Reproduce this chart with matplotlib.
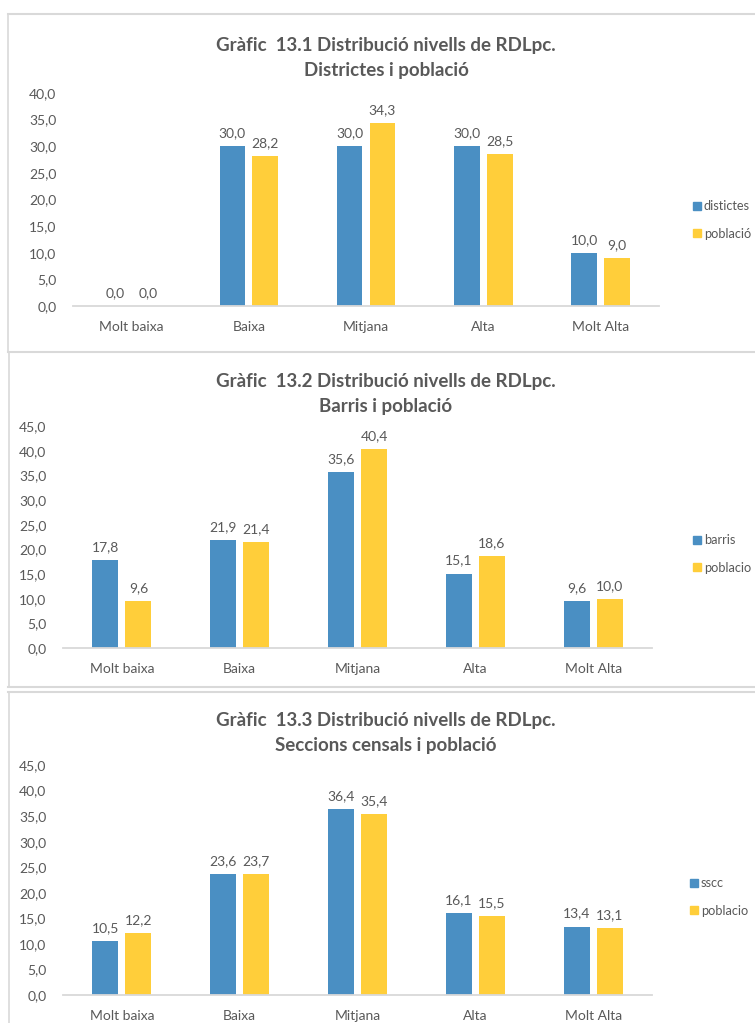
import matplotlib
matplotlib.use("Agg")
import matplotlib.pyplot as plt
from matplotlib.lines import Line2D
from matplotlib.patches import Patch
import numpy as np

plt.rcParams['font.family'] = ['Lato', 'DejaVu Sans']

categories = ["Molt baixa", "Baixa", "Mitjana", "Alta", "Molt Alta"]

districtes = [0.0, 30.0, 30.0, 30.0, 10.0]
poblacio_districtes = [0.0, 28.2, 34.3, 28.5, 9.0]

barris = [17.8, 21.9, 35.6, 15.1, 9.6]
poblacio_barris = [9.6, 21.4, 40.4, 18.6, 10.0]

sscc = [10.5, 23.6, 36.4, 16.1, 13.4]
poblacio_sscc = [12.2, 23.7, 35.4, 15.5, 13.1]

titles = [
    "Gràfic  13.1 Distribució nivells de RDLpc.\nDistrictes i població",
    "Gràfic  13.2 Distribució nivells de RDLpc.\nBarris i població",
    "Gràfic  13.3 Distribució nivells de RDLpc.\nSeccions censals i població",
]
series_names = [("distictes", "població"), ("barris", "poblacio"), ("sscc", "poblacio")]
series_values = [(districtes, poblacio_districtes), (barris, poblacio_barris),
                 (sscc, poblacio_sscc)]
y_max = [40, 45, 45]

BLUE = "#4A8FC3"
YELLOW = "#FFCE3A"
TEXT = "#595959"
GRID = "#D9D9D9"

W, H = 755, 1023
fig = plt.figure(figsize=(W / 100, H / 100), dpi=100)

# axes boxes in pixels: left, right, baseline, top of y range
boxes = [(73, 659, 306, 93), (63, 652, 648, 426), (63, 652, 995, 765)]
title_y = [58, 394, 733]
legend_y = [220, 554, 897]
legend_x = [693, 693, 690]


def fmt(v):
    return f"{v:.1f}".replace(".", ",")


x = np.arange(len(categories))
w = 0.22
off = 0.14

for i in range(3):
    l, r, b, t = boxes[i]
    ax = fig.add_axes([l / W, 1 - b / H, (r - l) / W, (b - t) / H])
    s1, s2 = series_values[i]
    bars1 = ax.bar(x - off, s1, w, color=BLUE)
    bars2 = ax.bar(x + off, s2, w, color=YELLOW)
    ax.bar_label(bars1, labels=[fmt(v) for v in s1], padding=5, color=TEXT, fontsize=10)
    ax.bar_label(bars2, labels=[fmt(v) for v in s2], padding=5, color=TEXT, fontsize=10)

    ax.set_xlim(-0.5, len(categories) - 0.5)
    ax.set_ylim(0, y_max[i])
    yt = np.arange(0, y_max[i] + 1, 5)
    ax.set_yticks(yt)
    ax.set_yticklabels([fmt(v) for v in yt])
    ax.set_xticks(x)
    ax.set_xticklabels(categories)
    ax.tick_params(axis="both", length=0, colors=TEXT, labelsize=10)
    ax.tick_params(axis="y", pad=12)
    ax.tick_params(axis="x", pad=11)
    for side in ["top", "right", "left"]:
        ax.spines[side].set_visible(False)
    ax.spines["bottom"].set_color(GRID)
    ax.spines["bottom"].set_linewidth(1.3)
    ax.patch.set_alpha(0)

    fig.text(386 / W, 1 - title_y[i] / H, titles[i], ha="center", va="center",
             fontsize=13.5, fontweight="bold", color=TEXT, linespacing=1.6)

    handles = [Patch(color=BLUE), Patch(color=YELLOW)]
    ax.legend(handles, series_names[i], loc="center left",
              bbox_to_anchor=(legend_x[i] / W, 1 - legend_y[i] / H),
              bbox_transform=fig.transFigure, frameon=False, borderpad=0,
              handlelength=0.6, handleheight=0.6, handletextpad=0.25,
              labelspacing=1.2, borderaxespad=0, fontsize=9.2, labelcolor=TEXT)

# panel frames
def hline(y, x0=8, x1=W):
    fig.add_artist(Line2D([x0 / W, x1 / W], [1 - y / H, 1 - y / H],
                          color=GRID, lw=1.5, transform=fig.transFigure))


def vline(x0, y0, y1):
    fig.add_artist(Line2D([x0 / W, x0 / W], [1 - y0 / H, 1 - y1 / H],
                          color=GRID, lw=1.2, transform=fig.transFigure))


hline(14)
vline(8, 14, 352)
hline(352)
vline(9, 352, 687)
hline(687)
hline(692)
vline(9, 692, H)

fig.savefig("out.png", dpi=100)
